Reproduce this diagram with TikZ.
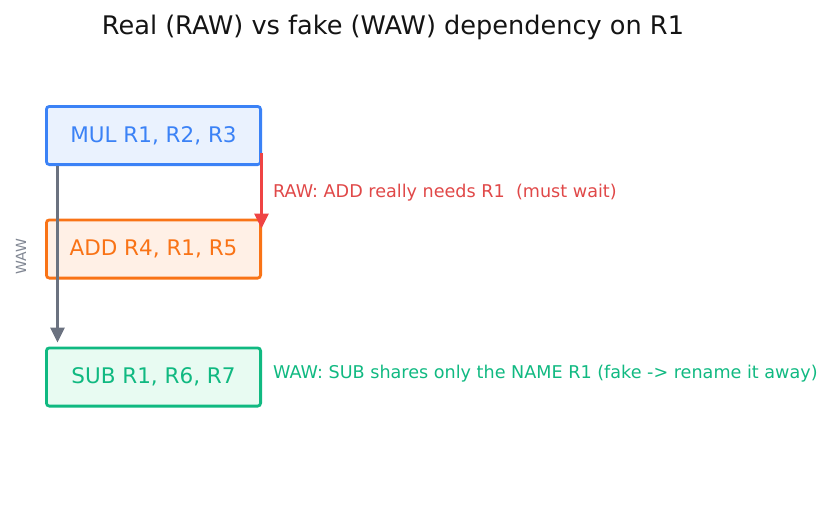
\documentclass[tikz,border=0pt]{standalone}
\usepackage{fontspec}
\setmainfont{DejaVu Sans}
\usetikzlibrary{arrows.meta}
\definecolor{mulblue}{HTML}{3B82F6}
\definecolor{mulfill}{HTML}{EAF2FE}
\definecolor{addorange}{HTML}{F97316}
\definecolor{addfill}{HTML}{FFF0E6}
\definecolor{subgreen}{HTML}{10B981}
\definecolor{subfill}{HTML}{E8FBF2}
\definecolor{rawred}{HTML}{EF4444}
\definecolor{rawtext}{HTML}{E04848}
\definecolor{wawgray}{HTML}{6B7280}
\begin{document}
\begin{tikzpicture}[x=1pt,y=-1pt,
  instr/.style={draw, line width=2.8pt, rounded corners=3pt, minimum width=214.2pt,
    minimum height=58.2pt, inner sep=0pt, text height=15.5pt, text depth=2pt,
    font=\fontsize{21.5}{25}\selectfont},
  note/.style={anchor=west, inner sep=0pt, font=\fontsize{17.6}{21}\selectfont},
  dep/.style={line width=2.8pt, -{Triangle[length=15pt,width=14pt]}}]
\useasboundingbox (0,0) rectangle (830,512);
\node[font=\fontsize{25.6}{30}\selectfont, text=black!92] (title) at (393,27) {Real (RAW) vs fake (WAW) dependency on R1};
\node[instr, draw=mulblue, fill=mulfill, text=mulblue] (mul) at (153.5,135.5) {MUL R1, R2, R3};
\node[instr, draw=addorange, fill=addfill, text=addorange] (add) at (153.5,249) {ADD R4, R1, R5};
\node[instr, draw=subgreen, fill=subfill, text=subgreen] (sub) at (153.5,377) {SUB R1, R6, R7};
\draw[dep, rawred] ([xshift=-0.5pt,yshift=13pt]mul.south east) -- ([xshift=-0.5pt,yshift=-10pt]add.north east);
\draw[dep, wawgray] ([xshift=12.5pt]mul.south west) -- ([xshift=12.5pt,yshift=4pt]sub.north west);
\node[note, text=rawtext] (rawnote) at (273,193) {RAW: ADD really needs R1\ \ (must wait)};
\node[note, text=subgreen] (wawnote) at (273,374) {WAW: SUB shares only the NAME R1 (fake -> rename it away)};
\node[rotate=90, text=wawgray!85, font=\fontsize{14}{17}\selectfont] (wawside) at (21,257) {WAW};
\end{tikzpicture}
\end{document}
